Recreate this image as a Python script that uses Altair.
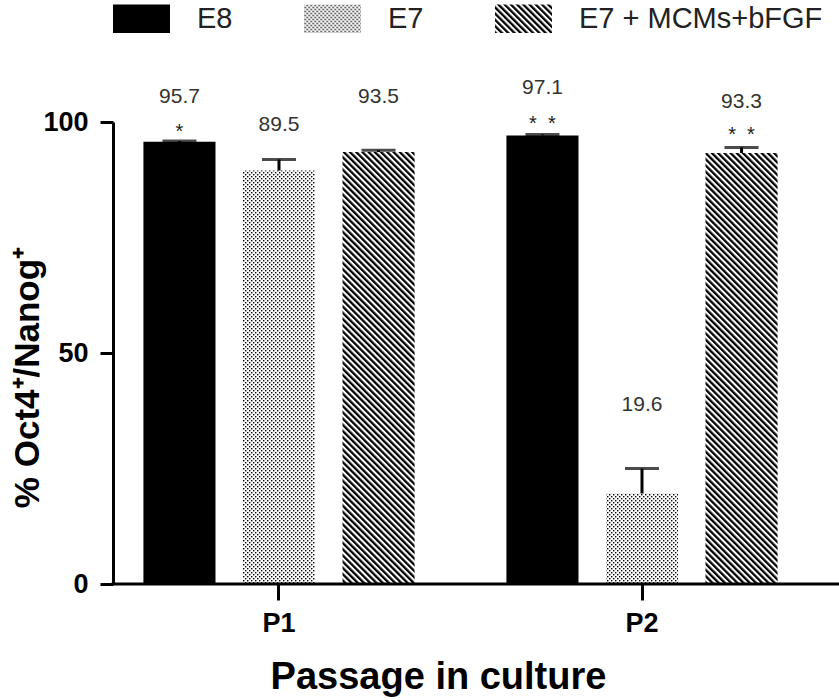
import sys
import altair as alt
import pandas as pd
import altair.utils.html as _alt_html

# ---- data -------------------------------------------------------------
passages = ["P1", "P1", "P1", "P2", "P2", "P2"]
conditions = ["E8", "E7", "E7 + MCMs+bFGF", "E8", "E7", "E7 + MCMs+bFGF"]
means = [95.7, 89.5, 93.5, 97.1, 19.6, 93.3]
errors = [0.2, 2.4, 0.4, 0.2, 5.4, 1.2]
stars = ["*", "", "", "*\u00a0\u00a0*", "", "*\u00a0\u00a0*"]

condition_order = ["E8", "E7", "E7 + MCMs+bFGF"]

# ---- layout (pixel lifts of the annotations above each error cap) ------
value_label_lift = [44, 34, 53, 46, 64, 45]
star_lift = [14, 0, 0, 15, 0, 17]

FONT = "Liberation Sans"
W, H = 695, 462
PX_PER_UNIT = H / 100.0

df = pd.DataFrame({
    "passage": passages,
    "condition": conditions,
    "mean": means,
    "err": errors,
    "star": stars,
    "label_lift": value_label_lift,
    "star_lift": star_lift,
})

# Fill patterns referenced by the colour scale (stipple and diagonal hatch)
PATTERN_DEFS = """
<svg width="0" height="0" style="position:absolute;width:0;height:0;overflow:hidden">
  <defs>
    <pattern id="e7dots" patternUnits="userSpaceOnUse" width="4" height="4">
      <rect x="0" y="0" width="4" height="4" fill="#ffffff"/>
      <rect x="0" y="0" width="1.4" height="1.4" fill="#000000"/>
      <rect x="2" y="2" width="1.4" height="1.4" fill="#000000"/>
    </pattern>
    <pattern id="e7hatch" patternUnits="userSpaceOnUse" width="4.4" height="10"
             patternTransform="rotate(-45)">
      <rect x="0" y="0" width="4.4" height="10" fill="#ffffff"/>
      <rect x="0" y="0" width="2.3" height="10" fill="#000000"/>
    </pattern>
  </defs>
</svg>
"""


def _with_patterns(page):
    if 'id="e7hatch"' in page:
        return page
    if "<body>" in page:
        return page.replace("<body>", "<body>\n" + PATTERN_DEFS, 1)
    return page.replace("</head>", "</head>\n" + PATTERN_DEFS, 1)


_orig_spec_to_html = _alt_html.spec_to_html


def _spec_to_html_with_patterns(*args, **kwargs):
    return _with_patterns(_orig_spec_to_html(*args, **kwargs))


# route altair's html builder through the pattern hook
for _name, _mod in list(sys.modules.items()):
    if _name.startswith("altair") and _mod is not None:
        if getattr(_mod, "spec_to_html", None) is _orig_spec_to_html:
            setattr(_mod, "spec_to_html", _spec_to_html_with_patterns)

x_enc = alt.X(
    "passage:N",
    title="Passage in culture",
    scale=alt.Scale(paddingInner=0.253, paddingOuter=0.0838),
    axis=alt.Axis(
        domain=False, labelAngle=0, tickSize=16, tickWidth=3, tickColor="black",
        labelFont=FONT, labelFontSize=27, labelFontWeight="bold", labelPadding=10,
        labelColor="black",
        titleFont=FONT, titleFontSize=38, titleFontWeight="bold",
        titleX=325, titleY=74, titleAlign="center", titleBaseline="top",
        titleColor="black",
    ),
)
xoff = alt.XOffset(
    "condition:N",
    scale=alt.Scale(domain=condition_order, paddingInner=0.276, paddingOuter=0),
)
y_scale = alt.Scale(domain=[0, 100], nice=False)

base = alt.Chart(df).transform_calculate(
    top="datum.mean + datum.err",
    label_pos=f"datum.mean + datum.err + datum.label_lift / {PX_PER_UNIT}",
    star_pos=f"datum.mean + datum.err + datum.star_lift / {PX_PER_UNIT}",
    txt="format(datum.mean, '.1f')",
)

bars = base.mark_bar().encode(
    x=x_enc,
    xOffset=xoff,
    y=alt.Y(
        "mean:Q",
        scale=y_scale,
        title="% Oct4\u207a/Nanog\u207a",
        axis=alt.Axis(
            values=[0, 50, 100], domainWidth=3, domainColor="black",
            tickSize=13, tickWidth=3, tickColor="black", grid=False,
            labelFont=FONT, labelFontSize=27, labelFontWeight="bold",
            labelPadding=12, labelColor="black",
            titleFont=FONT, titleFontSize=35, titleFontWeight="bold",
            titleX=-68, titleY=255, titleAngle=270, titleAlign="center",
            titleBaseline="bottom", titleColor="black",
        ),
    ),
    fill=alt.Fill(
        "condition:N",
        scale=alt.Scale(
            domain=condition_order,
            range=["#000000", "url(#e7dots)", "url(#e7hatch)"],
        ),
        legend=alt.Legend(
            title=None, orient="none", direction="horizontal",
            legendX=0, legendY=-132,
            symbolType="M-1,-0.5H1V0.5H-1Z", symbolSize=3249,
            symbolStrokeWidth=0, labelOffset=27, columnPadding=71,
            labelFont=FONT, labelFontSize=29, labelColor="#222222",
            labelLimit=400, padding=0,
        ),
    ),
)

whiskers = base.mark_rule(color="black", strokeWidth=3).encode(
    x="passage:N", xOffset=xoff,
    y=alt.Y("mean:Q", scale=y_scale), y2="top:Q",
)

caps = base.mark_tick(color="black", thickness=3, size=34).encode(
    x="passage:N", xOffset=xoff,
    y=alt.Y("top:Q", scale=y_scale),
)

value_labels = base.mark_text(
    font=FONT, fontSize=21, color="#333333", baseline="middle", align="center"
).encode(
    x="passage:N", xOffset=xoff,
    y=alt.Y("label_pos:Q", scale=y_scale),
    text="txt:N",
)

star_labels = base.transform_filter("datum.star != ''").mark_text(
    font=FONT, fontSize=20, color="#222222", baseline="middle", align="center", dy=5
).encode(
    x="passage:N", xOffset=xoff,
    y=alt.Y("star_pos:Q", scale=y_scale),
    text="star:N",
)

baseline = alt.Chart(pd.DataFrame({"zero": [0]})).mark_rule(
    color="black", strokeWidth=3
).encode(
    y=alt.Y("zero:Q", scale=y_scale),
    x=alt.value(-1.5), x2=alt.value(726),
)

chart = alt.layer(bars, whiskers, caps, value_labels, star_labels, baseline).properties(
    width=W, height=H,
    autosize=alt.AutoSizeParams(type="none"),
    padding={"left": 113, "top": 122, "right": 31, "bottom": 116},
    background="white",
).configure_view(stroke=None)

chart.save("out.html", embed_options={"renderer": "svg", "actions": False})

# make sure the pattern definitions are present in the written page
with open("out.html", encoding="utf-8") as fh:
    _page = fh.read()
if 'id="e7hatch"' not in _page:
    with open("out.html", "w", encoding="utf-8") as fh:
        fh.write(_with_patterns(_page))
